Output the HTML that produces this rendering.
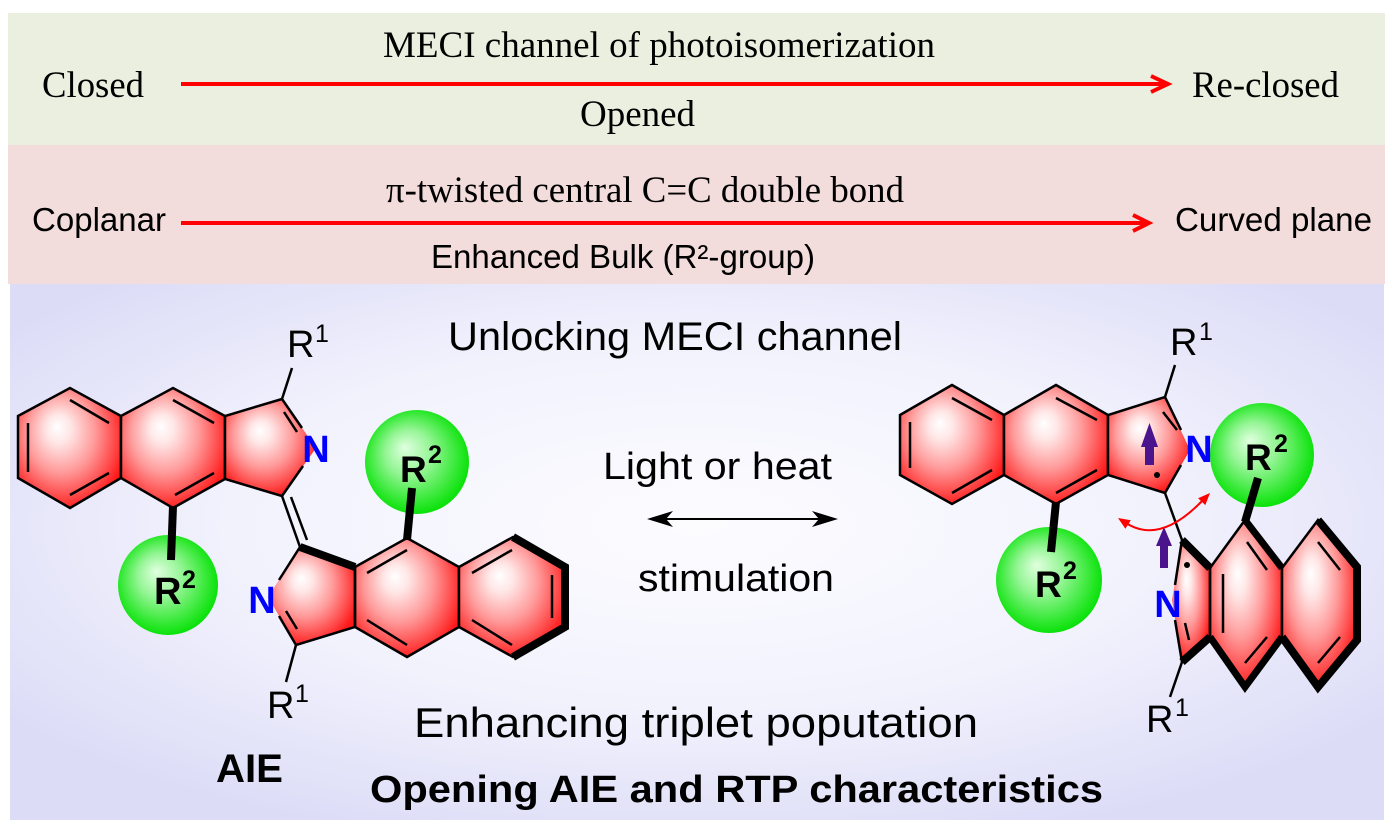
<!DOCTYPE html>
<html>
<head>
<meta charset="utf-8">
<style>
html,body{margin:0;padding:0;background:#fff;}
svg{display:block;}
.serif{font-family:"Liberation Serif",serif;}
.sans{font-family:"Liberation Sans",Arial,sans-serif;}
</style>
</head>
<body>
<svg width="1397" height="830" viewBox="0 0 1397 830" xmlns="http://www.w3.org/2000/svg">
<defs>
<radialGradient id="rg" cx="0.45" cy="0.42" r="0.6" fx="0.38" fy="0.32">
 <stop offset="0" stop-color="#ffffff"/>
 <stop offset="0.2" stop-color="#ffe6e6"/>
 <stop offset="0.55" stop-color="#ff9a9a"/>
 <stop offset="0.85" stop-color="#ff4646"/>
 <stop offset="1" stop-color="#ff1a1a"/>
</radialGradient>
<radialGradient id="gg" cx="0.48" cy="0.48" r="0.55" fx="0.38" fy="0.36">
 <stop offset="0" stop-color="#e0ffe0"/>
 <stop offset="0.4" stop-color="#95f595"/>
 <stop offset="0.8" stop-color="#30e830"/>
 <stop offset="1" stop-color="#00e000"/>
</radialGradient>
<radialGradient id="bgg" cx="0.5" cy="0.45" r="0.62">
 <stop offset="0" stop-color="#fcfcff"/>
 <stop offset="0.55" stop-color="#f2f2fd"/>
 <stop offset="1" stop-color="#dcdcf7"/>
</radialGradient>
</defs>

<!-- bands -->
<rect x="8" y="13" width="1377" height="132" fill="#ebefdf"/>
<rect x="8" y="145" width="1377" height="139" fill="#f2dcdc"/>
<rect x="10" y="284" width="1374" height="536" fill="url(#bgg)"/>

<!-- top band -->
<text class="serif" x="42" y="97" font-size="37" textLength="102" lengthAdjust="spacingAndGlyphs">Closed</text>
<text class="serif" x="383" y="57" font-size="37" textLength="552" lengthAdjust="spacingAndGlyphs">MECI channel of photoisomerization</text>
<text class="serif" x="1192" y="97" font-size="37" textLength="147" lengthAdjust="spacingAndGlyphs">Re-closed</text>
<text class="serif" x="580" y="126" font-size="37" textLength="115" lengthAdjust="spacingAndGlyphs">Opened</text>
<line x1="181" y1="84" x2="1166" y2="84" stroke="#ff0000" stroke-width="4"/>
<polyline points="1151,76 1168,84 1151,92" fill="none" stroke="#ff0000" stroke-width="4"/>

<!-- pink band -->
<text class="serif" x="386" y="202" font-size="37" textLength="518" lengthAdjust="spacingAndGlyphs">π-twisted central C=C double bond</text>
<text class="sans" x="32" y="231" font-size="33" textLength="134" lengthAdjust="spacingAndGlyphs">Coplanar</text>
<text class="sans" x="1175" y="231" font-size="33" textLength="197" lengthAdjust="spacingAndGlyphs">Curved plane</text>
<text class="sans" x="431" y="268" font-size="33" textLength="384" lengthAdjust="spacingAndGlyphs">Enhanced Bulk (R²-group)</text>
<line x1="181" y1="223" x2="1147" y2="223" stroke="#ff0000" stroke-width="4"/>
<polyline points="1133,215 1149,223 1133,231" fill="none" stroke="#ff0000" stroke-width="4"/>

<!-- bottom panel texts -->
<text class="sans" x="448" y="350" font-size="40" textLength="454" lengthAdjust="spacingAndGlyphs">Unlocking MECI channel</text>
<text class="sans" x="603" y="479" font-size="38" textLength="229" lengthAdjust="spacingAndGlyphs">Light or heat</text>
<text class="sans" x="638" y="591" font-size="38" textLength="196" lengthAdjust="spacingAndGlyphs">stimulation</text>
<text class="sans" x="414" y="737" font-size="42" textLength="564" lengthAdjust="spacingAndGlyphs">Enhancing triplet poputation</text>
<text class="sans" x="216" y="782" font-size="40" font-weight="bold" textLength="67" lengthAdjust="spacingAndGlyphs">AIE</text>
<text class="sans" x="370" y="802" font-size="38" font-weight="bold" textLength="733" lengthAdjust="spacingAndGlyphs">Opening AIE and RTP characteristics</text>

<!-- double arrow -->
<line x1="662" y1="519" x2="824" y2="519" stroke="#000" stroke-width="2"/>
<polygon points="647,519 673,511 666,519 673,527" fill="#000"/>
<polygon points="838,519 812,511 819,519 812,527" fill="#000"/>

<!-- ================= LEFT MOLECULE ================= -->
<g stroke="#000" stroke-width="2.5" stroke-linejoin="miter">
 <polygon points="18,416 70,388 121,416 121,478 70,508 18,478" fill="url(#rg)"/>
 <polygon points="121,416 173,388 225,416 225,479 173,508 121,478" fill="url(#rg)"/>
 <polygon points="225,416 282,399 316,448 282,496 225,479" fill="url(#rg)" stroke="none"/>
 <polyline points="302,428 282,399 225,416 225,479 282,496 303,466" fill="none"/>
 <line x1="28" y1="423" x2="28" y2="472"/>
 <line x1="70" y1="400" x2="109" y2="423"/>
 <line x1="70" y1="495" x2="109" y2="473"/>
 <line x1="173" y1="400" x2="214" y2="423"/>
 <line x1="175" y1="495" x2="214" y2="473"/>
 <line x1="284" y1="412" x2="297" y2="432"/>
 <line x1="282" y1="399" x2="292" y2="368"/>
 <line x1="282" y1="496" x2="300" y2="547"/>
 <line x1="291" y1="497" x2="307" y2="540"/>
 <polygon points="300,547 355,567 355,627 296,645 268,597" fill="url(#rg)" stroke="none"/>
 <polygon points="355,567 407,538 459,567 459,627 407,657 355,627" fill="url(#rg)"/>
 <polygon points="459,567 513,537 565,567 565,627 513,657 459,627" fill="url(#rg)"/>
 <polyline points="355,567 355,627 296,645 279,616" fill="none"/>
 <line x1="300" y1="547" x2="279" y2="580"/>
 <line x1="300" y1="547" x2="355" y2="567" stroke-width="8"/>
 <polyline points="513,537 565,567 565,627 513,657" fill="none" stroke-width="8"/>
 <line x1="286" y1="611" x2="297" y2="629"/>
 <line x1="367" y1="573" x2="407" y2="550"/>
 <line x1="367" y1="620" x2="407" y2="645"/>
 <line x1="472" y1="573" x2="512" y2="550"/>
 <line x1="472" y1="620" x2="512" y2="645"/>
 <line x1="552" y1="575" x2="552" y2="618"/>
 <line x1="296" y1="645" x2="286" y2="682"/>
</g>
<circle cx="168" cy="585" r="50" fill="url(#gg)"/>
<circle cx="417" cy="462" r="52" fill="url(#gg)"/>
<line x1="173" y1="506" x2="171" y2="560" stroke="#000" stroke-width="8"/>
<line x1="412" y1="488" x2="407" y2="540" stroke="#000" stroke-width="8"/>
<g class="sans">
 <text x="154" y="604" font-size="38" font-weight="bold">R</text>
 <text x="182" y="588" font-size="25" font-weight="bold">2</text>
 <text x="400" y="482" font-size="37" font-weight="bold">R</text>
 <text x="428" y="463" font-size="25" font-weight="bold">2</text>
 <text x="287" y="357" font-size="38">R</text>
 <text x="315" y="342" font-size="25">1</text>
 <text x="267" y="718" font-size="38">R</text>
 <text x="295" y="702" font-size="25">1</text>
 <text x="316" y="462" font-size="38" font-weight="bold" fill="#0000ff" text-anchor="middle">N</text>
 <text x="262" y="613" font-size="38" font-weight="bold" fill="#0000ff" text-anchor="middle">N</text>
</g>

<!-- ================= RIGHT MOLECULE ================= -->
<g stroke="#000" stroke-width="2.5" stroke-linejoin="miter">
 <polygon points="900,415 952,385 1004,415 1004,475 952,504 900,475" fill="url(#rg)"/>
 <polygon points="1004,415 1056,385 1108,415 1108,475 1056,504 1004,475" fill="url(#rg)"/>
 <polygon points="1108,415 1165,397 1190,450 1165,493 1108,475" fill="url(#rg)" stroke="none"/>
 <polyline points="1181,430 1165,397 1108,415 1108,475 1165,493 1181,465" fill="none"/>
 <line x1="910" y1="422" x2="910" y2="468"/>
 <line x1="952" y1="398" x2="992" y2="420"/>
 <line x1="952" y1="493" x2="992" y2="470"/>
 <line x1="1056" y1="398" x2="1097" y2="420"/>
 <line x1="1056" y1="493" x2="1097" y2="470"/>
 <line x1="1163" y1="412" x2="1177" y2="430"/>
 <line x1="1165" y1="397" x2="1175" y2="365"/>
 <line x1="1165" y1="493" x2="1182" y2="540"/>
 <polygon points="1182,540 1210,568 1210,637 1182,662 1172,600" fill="url(#rg)" stroke="none"/>
 <polygon points="1210,568 1245,520 1282,568 1282,637 1245,687 1210,637" fill="url(#rg)"/>
 <polygon points="1282,568 1318,520 1357,567 1357,640 1318,687 1282,637" fill="url(#rg)"/>
 <line x1="1182" y1="540" x2="1175" y2="585"/>
 <line x1="1182" y1="662" x2="1175" y2="620"/>
 <line x1="1210" y1="568" x2="1210" y2="637"/>
 <line x1="1182" y1="540" x2="1210" y2="568" stroke-width="8"/>
 <line x1="1210" y1="637" x2="1182" y2="662" stroke-width="8"/>
 <line x1="1245" y1="520" x2="1282" y2="568" stroke-width="7"/>
 <polyline points="1210,637 1245,687 1282,637" fill="none" stroke-width="7"/>
 <polyline points="1318,520 1357,567 1357,640 1318,687 1282,637" fill="none" stroke-width="8"/>
 <line x1="1185" y1="623" x2="1189" y2="640"/>
 <line x1="1223" y1="574" x2="1223" y2="633"/>
 <line x1="1247" y1="542" x2="1267" y2="570"/>
 <line x1="1245" y1="663" x2="1267" y2="637"/>
 <line x1="1318" y1="542" x2="1340" y2="570"/>
 <line x1="1318" y1="663" x2="1340" y2="637"/>
 <line x1="1182" y1="662" x2="1170" y2="697"/>
</g>
<circle cx="1049" cy="580" r="53" fill="url(#gg)"/>
<circle cx="1262" cy="455" r="52" fill="url(#gg)"/>
<line x1="1056" y1="502" x2="1051" y2="552" stroke="#000" stroke-width="8"/>
<line x1="1245" y1="522" x2="1258" y2="478" stroke="#000" stroke-width="8"/>
<circle cx="1157" cy="475" r="3" fill="#000"/>
<circle cx="1187" cy="565" r="3" fill="#000"/>
<g fill="#4a148c">
 <rect x="1145" y="445" width="9" height="20"/>
 <polygon points="1149.5,423 1141,447 1158,447"/>
 <rect x="1160" y="543" width="8" height="25"/>
 <polygon points="1164,527 1156,546 1172,546"/>
</g>
<path d="M1126,523 Q1160,545 1203,500" fill="none" stroke="#ff0000" stroke-width="2"/>
<polygon points="1118,518 1125.4,528.7 1130.8,520.3" fill="#ff0000"/>
<polygon points="1210,493 1205.3,505.1 1198.1,498.2" fill="#ff0000"/>
<g class="sans">
 <text x="1035" y="597" font-size="37" font-weight="bold">R</text>
 <text x="1063" y="579" font-size="25" font-weight="bold">2</text>
 <text x="1245" y="470" font-size="37" font-weight="bold">R</text>
 <text x="1274" y="452" font-size="25" font-weight="bold">2</text>
 <text x="1170" y="355" font-size="38">R</text>
 <text x="1199" y="340" font-size="25">1</text>
 <text x="1146" y="732" font-size="38">R</text>
 <text x="1175" y="716" font-size="25">1</text>
 <text x="1199" y="462" font-size="38" font-weight="bold" fill="#0000ff" text-anchor="middle">N</text>
 <text x="1168" y="617" font-size="38" font-weight="bold" fill="#0000ff" text-anchor="middle">N</text>
</g>
</svg>
</body>
</html>
